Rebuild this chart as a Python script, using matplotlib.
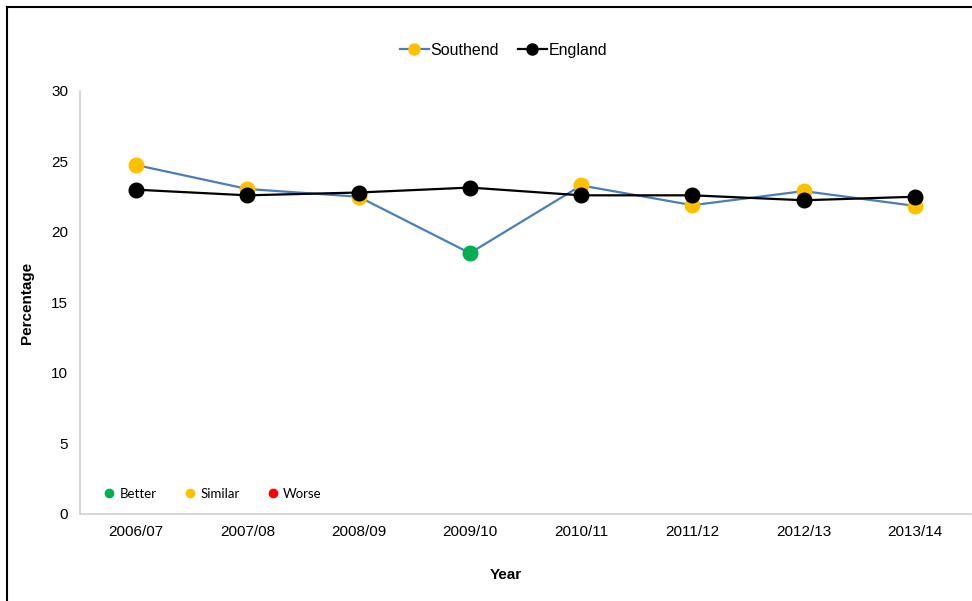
import matplotlib.pyplot as plt
from matplotlib.lines import Line2D

# data
years = ['2006/07', '2007/08', '2008/09', '2009/10', '2010/11', '2011/12', '2012/13', '2013/14']
southend = [24.75, 23.05, 22.5, 18.5, 23.3, 21.9, 22.9, 21.85]
england = [23.0, 22.6, 22.8, 23.15, 22.6, 22.6, 22.25, 22.5]
southend_status = ['Similar', 'Similar', 'Similar', 'Better', 'Similar', 'Similar', 'Similar', 'Similar']

status_colors = {'Better': '#00B050', 'Similar': '#FFC000', 'Worse': '#FF0000'}
line_blue = '#4A7EBB'

plt.rcParams['font.family'] = ['Liberation Sans', 'DejaVu Sans']

fig = plt.figure(figsize=(9.72, 6.01), dpi=100)
ax = fig.add_axes([0.0828, 0.1448, 0.9158, 0.7038])

x = list(range(len(years)))

# Southend line, then coloured markers per status
ax.plot(x, southend, color=line_blue, linewidth=1.6, zorder=2)
for xi, val, st in zip(x, southend, southend_status):
    ax.plot(xi, val, 'o', color=status_colors[st], markersize=10.5, zorder=3)

ax.plot(x, england, color='black', linewidth=1.6, marker='o', markersize=10.5, zorder=4)

ax.set_xlim(-0.5, len(years) - 0.5)
ax.set_ylim(0, 30)
ax.set_yticks([0, 5, 10, 15, 20, 25, 30])
ax.set_xticks(x)
ax.set_xticklabels(years)
ax.tick_params(length=0, labelsize=11, colors='#000000')
ax.tick_params(axis='y', pad=9)
ax.tick_params(axis='x', pad=8)

for s in ['top', 'right']:
    ax.spines[s].set_visible(False)
for s in ['left', 'bottom']:
    ax.spines[s].set_color('#D0D0D0')
    ax.spines[s].set_linewidth(1.2)

label_font = ['Liberation Sans Narrow', 'Liberation Sans', 'DejaVu Sans']
ax.set_ylabel('Percentage', fontsize=11, fontweight='bold', family=label_font, labelpad=12)
fig.text(0.52, 0.043, 'Year', fontsize=11, fontweight='bold', family=label_font,
         ha='center', va='center')

# series legend at top
series_handles = [
    Line2D([], [], color=line_blue, marker='o', markerfacecolor='#FFC000',
           markeredgecolor='#FFC000', markersize=8, linewidth=1.6),
    Line2D([], [], color='black', marker='o', markersize=8, linewidth=1.6),
]
fig.legend(series_handles, ['Southend', 'England'], loc='center',
           bbox_to_anchor=(0.518, 0.916), ncol=2, frameon=False, fontsize=11.5,
           handlelength=1.8, handletextpad=0.1, columnspacing=1.2)

# status key inside the plot
status_handles = [Line2D([], [], linestyle='none', marker='o', markersize=6,
                         color=status_colors[k]) for k in ['Better', 'Similar', 'Worse']]
key = ax.legend(status_handles, ['Better', 'Similar', 'Worse'], loc='lower left',
                bbox_to_anchor=(0.01, 0.005), ncol=3, frameon=False,
                prop={'family': ['Lato', 'DejaVu Sans'], 'size': 9.5},
                handletextpad=0.2, columnspacing=1.9, handlelength=1.2)

# outer frame (top and left only)
fig.add_artist(Line2D([0.007, 1.0], [0.988, 0.988], color='black', linewidth=1.5))
fig.add_artist(Line2D([0.007, 0.007], [0.0, 0.988], color='black', linewidth=1.5))

fig.savefig('out.png', dpi=100)
